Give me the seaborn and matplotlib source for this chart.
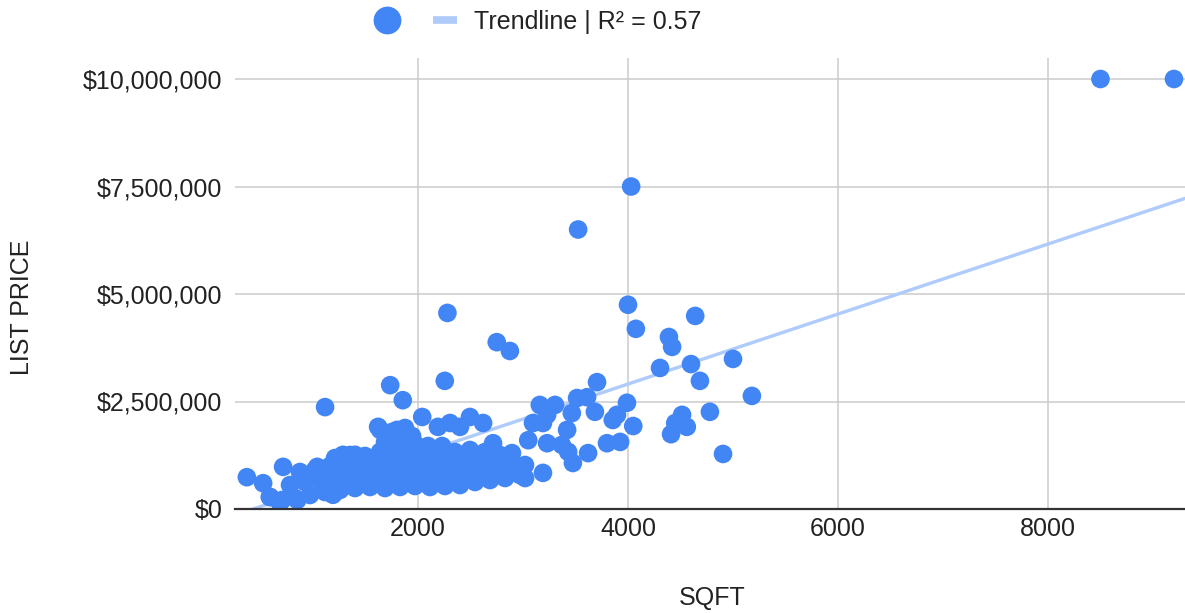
import matplotlib
matplotlib.use("Agg")
import matplotlib.pyplot as plt
from matplotlib.lines import Line2D
from matplotlib.ticker import FuncFormatter, FixedLocator
import numpy as np
import pandas as pd
import seaborn as sns

# Listings: square footage and list price
sqft = [
    8500, 9200, 4030, 3525, 2280, 4000, 4075, 2750, 2875, 4390,
    4420, 4305, 4600, 4640, 4685, 5000, 5180, 4780, 4515, 4450,
    4560, 4410, 4905, 3990, 3895, 3855, 4050, 3800, 3925, 3705,
    3515, 3610, 3685, 3465, 3160, 3305, 3230, 3095, 3190, 3420,
    3050, 3230, 3370, 3430, 3620, 3475, 3020, 3190, 2895, 2715,
    2620, 2495, 2400, 2305, 2190, 2040, 2255, 1735, 1855, 1620,
    1640, 1115, 370, 715, 525, 1040, 1285, 1400, 590, 685,
    850, 1190, 1665, 1800,
    # dense band under 3000 sqft
    590, 705, 829, 971, 1114, 1257, 1400, 1543, 1686, 1829,
    1971, 2114, 2257, 2400, 2543, 2686, 2829, 2971,
    781, 924, 1067, 1210, 1352, 1495, 1638, 1781, 1924, 2067,
    2210, 2352, 2495, 2638, 2781, 2924,
    876, 1019, 1162, 1305, 1448, 1590, 1733, 1876, 2019, 2162,
    2305, 2448, 2590, 2733, 2876, 3019,
    1210, 1352, 1495, 1638, 1781, 1924, 2067, 2210, 2352, 2495,
    2638, 2781,
    1686, 1781, 1876, 1971, 2095, 2229,
    1752, 1876, 1943,
]
list_price = [
    10000000, 10000000, 7500000, 6500000, 4560000, 4750000, 4190000, 3880000, 3675000, 4000000,
    3770000, 3280000, 3370000, 4490000, 2980000, 3490000, 2630000, 2260000, 2190000, 2000000,
    1910000, 1740000, 1280000, 2470000, 2190000, 2070000, 1930000, 1530000, 1560000, 2950000,
    2580000, 2600000, 2260000, 2230000, 2420000, 2420000, 2190000, 2000000, 2000000, 1840000,
    1600000, 1530000, 1490000, 1330000, 1300000, 1070000, 720000, 840000, 1300000, 1530000,
    2000000, 2140000, 1910000, 2000000, 1910000, 2140000, 2980000, 2880000, 2530000, 1910000,
    1840000, 2370000, 740000, 980000, 600000, 980000, 1260000, 1260000, 280000, 140000,
    210000, 330000, 1370000, 1840000,
    279000, 209000, 256000, 326000, 395000, 442000, 488000, 512000, 488000, 512000,
    535000, 512000, 535000, 558000, 628000, 674000, 721000, 791000,
    558000, 628000, 674000, 721000, 767000, 744000, 791000, 767000, 814000, 791000,
    814000, 837000, 860000, 907000, 953000, 1000000,
    860000, 907000, 1000000, 1000000, 1023000, 1070000, 1070000, 1093000, 1070000, 1093000,
    1116000, 1140000, 1140000, 1186000, 1093000, 1023000,
    1186000, 1256000, 1233000, 1326000, 1372000, 1326000, 1302000, 1326000, 1326000, 1372000,
    1326000, 1256000,
    1558000, 1605000, 1651000, 1512000, 1465000, 1465000,
    1791000, 1884000, 1698000,
]

x_ticks = [2000, 4000, 6000, 8000]
y_ticks = [0, 2500000, 5000000, 7500000, 10000000]
trend_label = "Trendline | R\u00b2 = 0.57"

df = pd.DataFrame({"SQFT": sqft, "LIST PRICE": list_price})

POINT = "#4285F4"
TREND = "#AECBFA"
TEXT = "#222222"
FS = 18

sns.set_theme(style="white")
plt.rcParams["font.family"] = ["Liberation Sans", "DejaVu Sans"]

fig = plt.figure(figsize=(11.85, 6.13), dpi=100)
ax = fig.add_axes([235 / 1185, 1 - 509 / 613, 950 / 1185, (509 - 57.5) / 613])

ax.set_xlim(257, 9305)
ax.set_ylim(0, 10500000)

# least-squares trendline across the full x range, then the listings on top
sns.regplot(data=df, x="SQFT", y="LIST PRICE", ax=ax, scatter=False, ci=None,
            truncate=False, color=TREND, line_kws={"linewidth": 2.4, "zorder": 2})
sns.scatterplot(data=df, x="SQFT", y="LIST PRICE", ax=ax, color=POINT, s=180,
                linewidth=0, edgecolor="none", zorder=3, legend=False)

ax.set_xlim(257, 9305)
ax.set_ylim(0, 10500000)

ax.xaxis.set_major_locator(FixedLocator(x_ticks))
ax.yaxis.set_major_locator(FixedLocator(y_ticks))
ax.yaxis.set_major_formatter(FuncFormatter(lambda v, p: f"${v:,.0f}"))
ax.xaxis.set_major_formatter(FuncFormatter(lambda v, p: f"{v:.0f}"))

ax.grid(True, color="#cccccc", linewidth=1.1, zorder=0)
ax.set_axisbelow(True)
for side in ["left", "right", "top"]:
    ax.spines[side].set_visible(False)
ax.spines["bottom"].set_color("#333333")
ax.spines["bottom"].set_linewidth(1.6)
ax.spines["bottom"].set_zorder(4)

ax.tick_params(axis="y", length=0, pad=9, labelsize=FS, labelcolor=TEXT)
ax.tick_params(axis="x", length=0, pad=6, labelsize=FS, labelcolor=TEXT)
ax.set_xlabel("")
ax.set_ylabel("")

fig.text(22 / 1185, 1 - 307 / 613, "LIST PRICE", rotation=90, ha="center", va="center",
         fontsize=FS, color=TEXT)
fig.text(712 / 1185, 1 - 598 / 613, "SQFT", ha="center", va="center",
         fontsize=FS, color=TEXT)

# legend: unlabeled point series, then the trendline entry
point_handle = Line2D([], [], marker="o", linestyle="", color=POINT, markersize=19)
trend_handle = Line2D([], [], color=TREND, linewidth=5.5, solid_capstyle="butt")
fig.legend([point_handle], [""], loc="center", bbox_to_anchor=(387 / 1185, 1 - 22 / 613),
           frameon=False, fontsize=FS, borderpad=0, handlelength=1.0, handletextpad=0)
fig.legend([trend_handle], [trend_label], loc="center left",
           bbox_to_anchor=(433 / 1185, 1 - 22 / 613), frameon=False, fontsize=FS,
           borderpad=0, borderaxespad=0, handlelength=0.96, handletextpad=0.68,
           labelcolor=TEXT)

fig.savefig("out.png", dpi=100)
